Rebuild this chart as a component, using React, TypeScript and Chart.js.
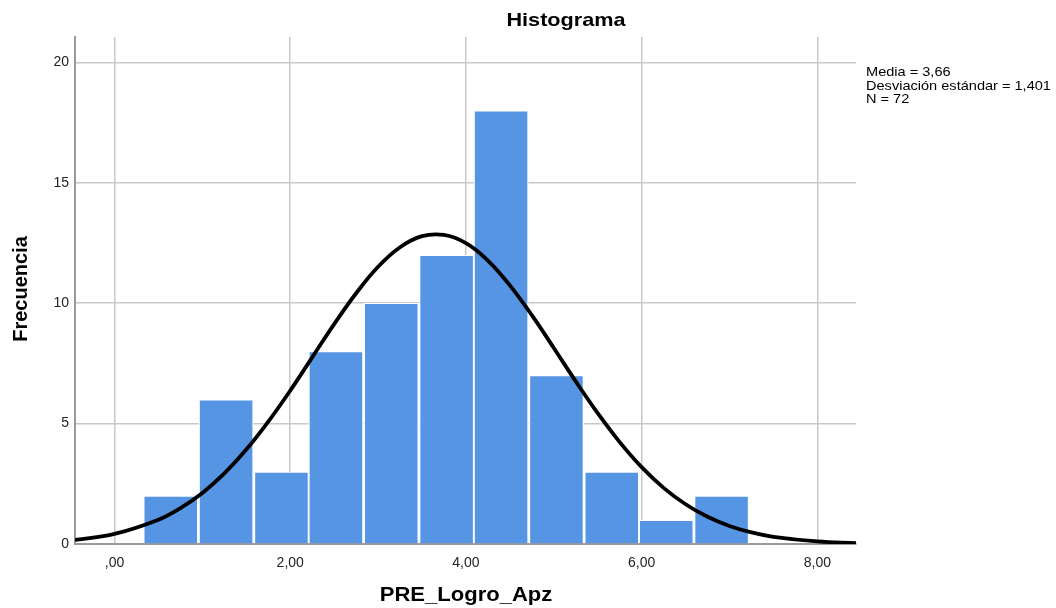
import React, { useEffect, useRef } from "react";
import { Chart, registerables } from "chart.js";

Chart.register(...registerables);

// Histogram bins (centers) and frequencies
const BIN_CENTERS = [0.64, 1.27, 1.9, 2.52, 3.15, 3.78, 4.4, 5.03, 5.66, 6.28, 6.91];
const FREQUENCIES = [2, 6, 3, 8, 10, 12, 18, 7, 3, 1, 2];

// Normal curve
const CURVE_X = [-0.45, 0, 0.5, 0.75, 1, 1.25, 1.5, 1.75, 2, 2.25, 2.5, 2.75, 3, 3.25, 3.5, 3.75, 4, 4.25, 4.5, 4.75, 5, 5.25, 5.5, 5.75, 6, 6.25, 6.5, 6.75, 7, 7.25, 7.5, 8, 8.44];
const CURVE_Y = [0.17, 0.42, 1.01, 1.49, 2.12, 2.93, 3.92, 5.08, 6.37, 7.75, 9.13, 10.41, 11.51, 12.32, 12.78, 12.83, 12.49, 11.77, 10.74, 9.5, 8.14, 6.75, 5.43, 4.23, 3.19, 2.33, 1.65, 1.13, 0.75, 0.48, 0.3, 0.11, 0.04];

const X_TICKS = [0, 2, 4, 6, 8];
const X_TICK_LABELS = [",00", "2,00", "4,00", "6,00", "8,00"];
const Y_TICKS = [0, 5, 10, 15, 20];

const TITLE = "Histograma";
const X_TITLE = "PRE_Logro_Apz";
const Y_TITLE = "Frecuencia";
const STATS = ["Media = 3,66", "Desviación estándar = 1,401", "N = 72"];

const FONT = "'Liberation Sans', Arial, sans-serif";

function stretchedText(ctx: any, text: string, x: number, y: number, sx: number) {
  ctx.save();
  ctx.translate(x, y);
  ctx.scale(sx, 1);
  ctx.fillText(text, 0, 0);
  ctx.restore();
}

const textPlugin = {
  id: "textPlugin",
  afterDraw(chart: any) {
    const ctx = chart.ctx;
    const area = chart.chartArea;
    ctx.save();
    ctx.fillStyle = "#000";
    ctx.textAlign = "center";
    ctx.textBaseline = "middle";
    ctx.font = `bold 19px ${FONT}`;
    stretchedText(ctx, TITLE, 566, 21, 1.14);
    ctx.font = `bold 19.5px ${FONT}`;
    stretchedText(ctx, X_TITLE, 466, 596, 1.13);
    ctx.save();
    ctx.translate(21, 289);
    ctx.rotate(-Math.PI / 2);
    ctx.font = `bold 20px ${FONT}`;
    ctx.fillText(Y_TITLE, 0, 0);
    ctx.restore();
    ctx.font = `13px ${FONT}`;
    ctx.textAlign = "left";
    ctx.textBaseline = "alphabetic";
    STATS.forEach((s, i) => stretchedText(ctx, s, area.right + 10, 76 + i * 13.5, 1.12));
    ctx.restore();
  },
};

export default function App() {
  const ref = useRef<HTMLCanvasElement>(null);
  useEffect(() => {
    if (!ref.current) return;
    const chart = new Chart(ref.current, {
      type: "bar",
      data: {
        datasets: [
          {
            type: "line",
            data: CURVE_X.map((x, i) => ({ x, y: CURVE_Y[i] })),
            borderColor: "#000",
            borderWidth: 3.8,
            pointRadius: 0,
            tension: 0.4,
            fill: false,
            order: 0,
          } as any,
          {
            type: "bar",
            data: BIN_CENTERS.map((x, i) => ({ x, y: FREQUENCIES[i] })),
            backgroundColor: "#5595e3",
            borderColor: "#ffffff",
            borderWidth: 1.3,
            barPercentage: 1,
            categoryPercentage: 1,
            order: 1,
          } as any,
        ],
      },
      options: {
        animation: false,
        responsive: false,
        devicePixelRatio: 1,
        layout: { padding: { left: 0, right: 200, top: 37, bottom: 0 } },
        plugins: { legend: { display: false }, tooltip: { enabled: false }, title: { display: false } },
        scales: {
          x: {
            type: "linear",
            offset: false,
            min: -0.45,
            max: 8.44,
            afterFit: (s: any) => { s.height = 64; },
            afterBuildTicks: (s: any) => { s.ticks = X_TICKS.map((v) => ({ value: v })); },
            grid: { color: "#c8c8c8", lineWidth: 1.5, drawTicks: false, offset: false },
            border: { display: true, color: "#9a9a9a", width: 2 },
            ticks: {
              padding: 11,
              color: "#222",
              font: { family: FONT, size: 14 },
              callback: (v: any) => X_TICK_LABELS[X_TICKS.indexOf(Number(v))] ?? "",
            },
          },
          y: {
            type: "linear",
            min: 0,
            max: 21.05,
            afterFit: (s: any) => { s.width = 75; },
            afterBuildTicks: (s: any) => { s.ticks = Y_TICKS.map((v) => ({ value: v })); },
            grid: { color: "#c8c8c8", lineWidth: 1.5, drawTicks: false },
            border: { display: true, color: "#9a9a9a", width: 2 },
            ticks: {
              padding: 6,
              color: "#222",
              font: { family: FONT, size: 14 },
              callback: (v: any) => String(v),
            },
          },
        },
      } as any,
      plugins: [textPlugin],
    });
    return () => chart.destroy();
  }, []);
  return (
    <div style={{ position: "absolute", left: 0, top: 0, width: 1056, height: 608, background: "#fff" }}>
      <canvas ref={ref} width={1056} height={608} style={{ width: 1056, height: 608, display: "block" }} />
    </div>
  );
}
